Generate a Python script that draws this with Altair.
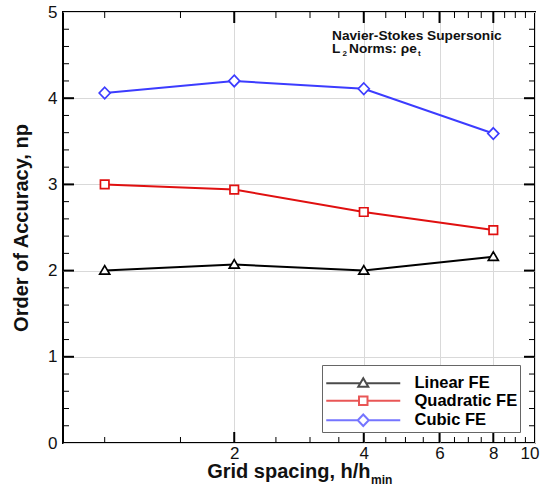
import altair as alt
import pandas as pd

# ---------------- data ----------------
series_names = ["Linear FE", "Quadratic FE", "Cubic FE"]
grid_spacing = [1, 2, 4, 8]
linear_fe = [2.00, 2.07, 2.00, 2.16]
quadratic_fe = [3.00, 2.94, 2.68, 2.47]
cubic_fe = [4.06, 4.20, 4.11, 3.59]

x_label_values = [2, 4, 6, 8, 10]
x_major_ticks = [2, 4, 6, 8]
x_minor_ticks = [1, 1.5, 2.5, 3, 3.5, 4.5, 5, 5.5, 6.5, 7, 7.5, 8.5, 9, 9.5]
y_label_values = [0, 1, 2, 3, 4, 5]
y_major_ticks = [1, 2, 3, 4]
y_minor_ticks = [0.2, 0.4, 0.6, 0.8, 1.2, 1.4, 1.6, 1.8, 2.2, 2.4, 2.6, 2.8,
                 3.2, 3.4, 3.6, 3.8, 4.2, 4.4, 4.6, 4.8]

x_title = "Grid spacing, h/h"
x_title_sub = "min"
y_title = "Order of Accuracy, np"
note_line1 = "Navier-Stokes Supersonic"
note_l = "L"
note_l_sub = "2"
note_rest = "Norms: ρe"
note_rest_sub = "t"

series_colors = ["#000000", "#e01010", "#3c3cff"]
marker_paths = [
    "M-1,0.7L0,-1L1,0.7Z",
    "M-0.85,-0.85H0.85V0.85H-0.85Z",
    "M0,-1.15L1.1,0L0,1.15L-1.1,0Z",
]
legend_paths = [
    "M-7.4,0H-0.6M0.6,0H7.4M-1,0.7L0,-1L1,0.7Z",
    "M-7.4,0H-0.85M0.85,0H7.4M-0.85,-0.85H0.85V0.85H-0.85Z",
    "M-7.4,0H-1.1M1.1,0H7.4M0,-1.15L1.1,0L0,1.15L-1.1,0Z",
]

rows = []
for name, vals in zip(series_names, [linear_fe, quadratic_fe, cubic_fe]):
    for gx, v in zip(grid_spacing, vals):
        rows.append({"series": name, "grid_spacing": gx, "order": v})
df = pd.DataFrame(rows)

# ---------------- layout ----------------
W, H = 472, 431
FONT = "Liberation Sans"
MAJOR, MINOR = 11, 6

xscale = alt.Scale(type="log", domain=[0.8, 10], nice=False)
yscale = alt.Scale(domain=[0, 5], nice=False, zero=False)
color_scale = alt.Scale(domain=series_names, range=series_colors)

base = alt.Chart(df)

lines = base.mark_line(strokeWidth=2).encode(
    x=alt.X("grid_spacing:Q", scale=xscale, axis=alt.Axis(
        orient="bottom", values=x_label_values, ticks=False, tickSize=0, domain=False,
        grid=True, gridColor="#d9d9d9", gridWidth=1,
        labelFont=FONT, labelFontSize=17, labelColor="#111", labelPadding=2,
        labelFlush=True, labelFlushOffset=4, labelOverlap=False,
        title=x_title, titleFont=FONT, titleFontSize=20, titleFontWeight="bold",
        titleColor="#111", titleAlign="right", titleX=307, titleY=34,
        titleBaseline="alphabetic")),
    y=alt.Y("order:Q", scale=yscale, axis=alt.Axis(
        orient="left", values=y_label_values, ticks=False, tickSize=0, domain=False,
        grid=True, gridColor="#d9d9d9", gridWidth=1,
        labelFont=FONT, labelFontSize=17, labelColor="#111", labelPadding=6,
        labelFlush=False, labelOverlap=False,
        title=y_title, titleFont=FONT, titleFontSize=20, titleFontWeight="bold",
        titleColor="#111", titleAngle=270, titleAlign="center", titleX=-36,
        titleY=H / 2, titleBaseline="alphabetic")),
    color=alt.Color("series:N", scale=color_scale, legend=None),
)

points = base.mark_point(filled=True, fill="white", size=100, strokeWidth=1.7, opacity=1).encode(
    x=alt.X("grid_spacing:Q", scale=xscale, axis=None),
    y=alt.Y("order:Q", scale=yscale, axis=None),
    stroke=alt.Stroke("series:N", scale=color_scale, legend=None),
    shape=alt.Shape("series:N", scale=alt.Scale(domain=series_names, range=marker_paths), legend=None),
)

leg = alt.Legend(
    orient="none", legendX=259, legendY=353, title=" ", titleFontSize=8, titlePadding=0,
    labelFont=FONT, labelFontSize=16.5, labelFontWeight="bold", labelColor="black",
    labelLimit=0, labelOffset=43, symbolSize=100, symbolStrokeWidth=2,
    symbolFillColor="white", strokeColor="#666", fillColor="white",
    padding=2, rowPadding=0.5, symbolOffset=31,
)

legend_layer = base.transform_filter("datum.grid_spacing > 1000").mark_point(
    filled=False, size=100, strokeWidth=2
).encode(
    x=alt.X("grid_spacing:Q", scale=xscale, axis=None),
    y=alt.Y("order:Q", scale=yscale, axis=None),
    stroke=alt.Stroke("series:N", scale=color_scale, legend=leg),
    shape=alt.Shape("series:N", scale=alt.Scale(domain=series_names, range=legend_paths), legend=leg),
)


# inward tick marks on all four edges (positions along the edge come from the scales)
def x_ticks(values, length, width):
    d = alt.Chart(pd.DataFrame({"v": values}))
    enc = dict(x=alt.X("v:Q", scale=xscale, axis=None))
    bottom = d.mark_rule(color="black", strokeWidth=width).encode(
        y=alt.value(H), y2=alt.value(H - length), **enc)
    top = d.mark_rule(color="black", strokeWidth=width).encode(
        y=alt.value(0), y2=alt.value(length), **enc)
    return [bottom, top]


def y_ticks(values, length, width):
    d = alt.Chart(pd.DataFrame({"v": values}))
    enc = dict(y=alt.Y("v:Q", scale=yscale, axis=None))
    left = d.mark_rule(color="black", strokeWidth=width).encode(
        x=alt.value(0), x2=alt.value(length), **enc)
    right = d.mark_rule(color="black", strokeWidth=width).encode(
        x=alt.value(W), x2=alt.value(W - length), **enc)
    return [left, right]


tick_layers = (x_ticks(x_major_ticks, MAJOR, 2) + x_ticks(x_minor_ticks, MINOR, 1)
               + y_ticks(y_major_ticks, MAJOR, 2) + y_ticks(y_minor_ticks, MINOR, 1))

one = pd.DataFrame({"k": [0]})


def label(text, x, y, size, weight="bold", align="left"):
    return alt.Chart(one).mark_text(
        text=text, font=FONT, fontSize=size, fontWeight=weight, color="#111",
        align=align, baseline="alphabetic",
    ).encode(x=alt.value(x), y=alt.value(y))


texts = [
    label(note_line1, 269, 28, 13.7),
    label(note_l, 269, 41, 13.7),
    label(note_l_sub, 279.5, 44, 8),
    label(note_rest, 286, 41, 13.7),
    label(note_rest_sub, 355, 44, 8),
    label(x_title_sub, 308, 472, 12),
]

chart = alt.layer(lines, *tick_layers, points, legend_layer, *texts).resolve_scale(
    shape="independent", stroke="independent"
).resolve_axis(
    x="independent", y="independent"
).properties(
    width=W, height=H,
    autosize=alt.AutoSizeParams(type="none"),
    padding={"left": 63, "top": 12, "right": 9, "bottom": 48},
    background="white",
).configure_view(stroke="black", strokeWidth=2)

chart.save("out.html", embed_options={"renderer": "svg", "actions": False})
